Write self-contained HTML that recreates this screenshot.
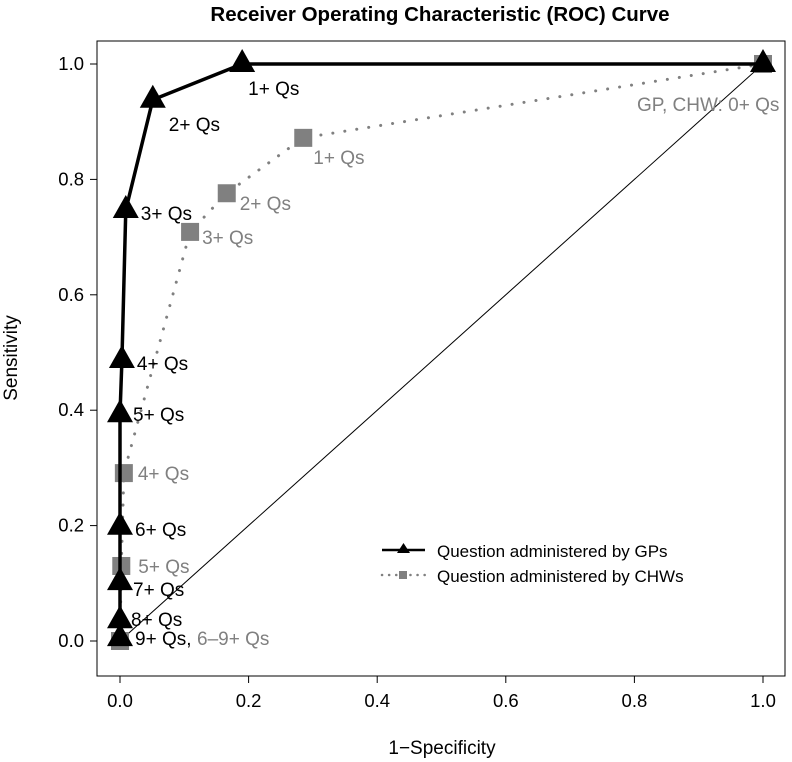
<!DOCTYPE html>
<html><head><meta charset="utf-8">
<style>
body{margin:0;background:#fff;}
svg{display:block;font-family:"Liberation Sans",Arial,sans-serif;}
</style></head>
<body>
<svg id="chart" width="792" height="762" viewBox="0 0 792 762">
<text x="440" y="21" text-anchor="middle" font-size="20.5" font-weight="bold">Receiver Operating Characteristic (ROC) Curve</text>
<rect x="97" y="41" width="688" height="635" fill="none" stroke="#000" stroke-width="1"/>
<text x="442" y="754" text-anchor="middle" font-size="19">1−Specificity</text>
<text transform="translate(17,358) rotate(-90)" text-anchor="middle" font-size="19">Sensitivity</text>
<g id="axes"></g>
<g id="marks"></g>
<g id="legend">
<line x1="382" y1="550" x2="425" y2="550" stroke="#000" stroke-width="2.5"/>
<polygon points="403.5,543 397,553 410,553" fill="#000"/>
<text x="437" y="557" font-size="17">Question administered by GPs</text>
<line x1="382" y1="575" x2="425" y2="575" stroke="#808080" stroke-width="2.5" stroke-dasharray="0.1 7" stroke-linecap="round"/>
<rect x="399" y="571" width="8" height="8" fill="#808080"/>
<text x="437" y="582" font-size="17" fill="#000">Question administered by CHWs</text>
</g>
</svg>
<script>
const xTicks=[0,0.2,0.4,0.6,0.8,1.0];
const yTicks=[0,0.2,0.4,0.6,0.8,1.0];
const gpX=[1,0.19,0.051,0.009,0.003,0,0,0,0,0];
const gpY=[1,1,0.938,0.747,0.487,0.393,0.198,0.102,0.036,0.005];
const gpLabels=["","1+ Qs","2+ Qs","3+ Qs","4+ Qs","5+ Qs","6+ Qs","7+ Qs","8+ Qs","9+ Qs,"];
const chwX=[1,0.285,0.166,0.109,0.006,0.002,0];
const chwY=[1,0.872,0.776,0.709,0.291,0.13,0];
const chwLabels=["GP, CHW: 0+ Qs","1+ Qs","2+ Qs","3+ Qs","4+ Qs","5+ Qs","6–9+ Qs"];
const gpOff=[[0,0],[6,31],[16,31],[15,10],[15,10],[13,7],[15,9],[13,14],[11,6],[15,7]];
const chwOff=[[-126,47],[10,26],[13,17],[12,12],[14,7],[17,7],[77,4]];
const X=v=>120+v*643, Y=v=>641-v*577;
const NS="http://www.w3.org/2000/svg";
function mk(t,a,p){const e=document.createElementNS(NS,t);for(const k in a)e.setAttribute(k,a[k]);p.appendChild(e);return e;}
const ax=document.getElementById('axes'), mg=document.getElementById('marks');
mk('line',{x1:X(0),y1:676,x2:X(1),y2:676,stroke:'#000'},ax);
xTicks.forEach(t=>{mk('line',{x1:X(t),y1:676,x2:X(t),y2:683,stroke:'#000'},ax);
const tx=mk('text',{x:X(t),y:707,'text-anchor':'middle','font-size':18.5},ax);tx.textContent=t.toFixed(1);

});
mk('line',{x1:97,y1:Y(0),x2:97,y2:Y(1),stroke:'#000'},ax);
yTicks.forEach(t=>{mk('line',{x1:90,y1:Y(t),x2:97,y2:Y(t),stroke:'#000'},ax);
const tx=mk('text',{x:84,y:Y(t)+6,'text-anchor':'end','font-size':18.5},ax);tx.textContent=t.toFixed(1);

});
const diag=mk('line',{x1:X(0),y1:Y(0),x2:X(1),y2:Y(1),stroke:'#000','stroke-width':1},mg);


const cl=mk('polyline',{points:chwX.map((x,i)=>X(x)+','+Y(chwY[i])).join(' '),fill:'none',stroke:'#808080','stroke-width':3,'stroke-dasharray':'0.1 12','stroke-linecap':'round'},mg);


chwX.forEach((x,i)=>{const r=mk('rect',{x:X(x)-9,y:Y(chwY[i])-9,width:18,height:18,fill:'#808080'},mg);

});
const gl=mk('polyline',{points:gpX.map((x,i)=>X(x)+','+Y(gpY[i])).join(' '),fill:'none',stroke:'#000','stroke-width':3.5},mg);


gpX.forEach((x,i)=>{const cx=X(x),cy=Y(gpY[i]);const p=mk('polygon',{points:`${cx},${cy-15} ${cx-13},${cy+8} ${cx+13},${cy+8}`,fill:'#000'},mg);

});
chwX.forEach((x,i)=>{const t=mk('text',{x:X(x)+chwOff[i][0],y:Y(chwY[i])+chwOff[i][1],'font-size':19,fill:'#808080'},mg);t.textContent=chwLabels[i];

});
gpX.forEach((x,i)=>{if(!gpLabels[i])return;const t=mk('text',{x:X(x)+gpOff[i][0],y:Y(gpY[i])+gpOff[i][1],'font-size':19,fill:'#000'},mg);t.textContent=gpLabels[i];

});
</script>
</body></html>
